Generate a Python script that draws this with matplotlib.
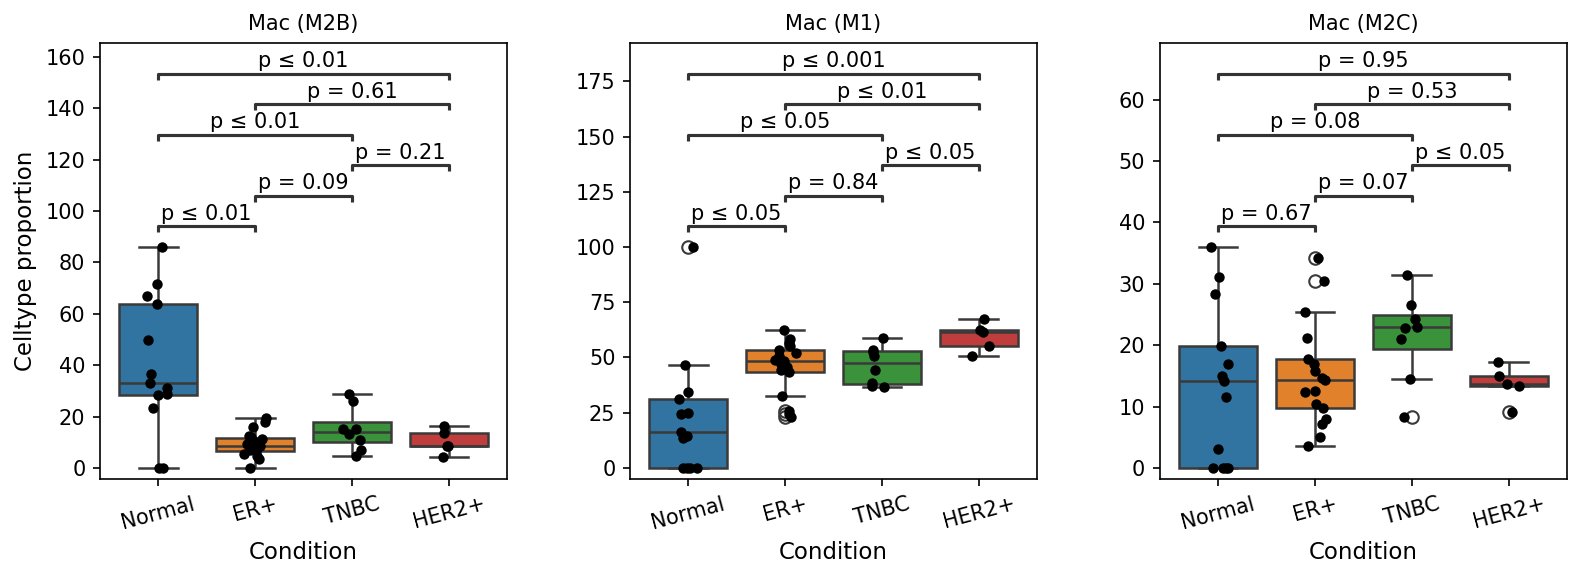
import numpy as np
import pandas as pd
import matplotlib
matplotlib.use("Agg")
import matplotlib.pyplot as plt
import seaborn as sns

conditions = ["Normal", "ER+", "TNBC", "HER2+"]
pairs = [("Normal", "ER+"), ("ER+", "TNBC"), ("TNBC", "HER2+"),
         ("Normal", "TNBC"), ("ER+", "HER2+"), ("Normal", "HER2+")]

# ---- Mac (M2B) ----
m2b_normal = [0, 0, 23.3, 28.5, 28.7, 31.3, 33, 36.5, 50, 64, 67, 71.5, 86]
m2b_er = [0, 3.5, 4.5, 5.5, 6.5, 7, 7.5, 8, 8.4, 8.6, 9.3, 10, 11.3, 12, 12.5, 15.8, 17.7, 19.3]
m2b_tnbc = [4.8, 7, 10.9, 13.2, 15.1, 15.3, 26.1, 28.9]
m2b_her2 = [4.4, 8.4, 8.7, 13.6, 16.2]
m2b_pvals = ["p ≤ 0.01", "p = 0.09", "p = 0.21", "p ≤ 0.01", "p = 0.61", "p ≤ 0.01"]

# ---- Mac (M1) ----
m1_normal = [0, 0, 0, 0, 13.5, 14.5, 16.3, 24.5, 25, 31, 34.2, 46.7, 100]
m1_er = [23, 24.6, 26, 32.7, 43.5, 44.5, 45.5, 47, 48.5, 49, 50.5, 52, 53.5, 55, 56.5, 58.5, 62.6]
m1_tnbc = [36.8, 37.2, 38.3, 44.4, 50.5, 52.7, 53.5, 58.8]
m1_her2 = [50.8, 55.3, 61.6, 62.6, 67.2]
m1_pvals = ["p ≤ 0.05", "p = 0.84", "p ≤ 0.05", "p ≤ 0.05", "p ≤ 0.01", "p ≤ 0.001"]

# ---- Mac (M2C) ----
m2c_normal = [0, 0, 0, 0, 3.1, 11.6, 14.2, 15, 16.9, 19.9, 28.4, 31.1, 36]
m2c_er = [3.5, 5.1, 7.1, 8, 9.8, 10.4, 12.3, 12.5, 14.3, 14.6, 15.8, 16.9, 17.7, 21.1, 25.4, 30.4, 34.2]
m2c_tnbc = [8.3, 14.5, 21, 22.8, 23, 24.3, 26.6, 31.4]
m2c_her2 = [9.15, 13.4, 13.6, 15, 17.3]
m2c_pvals = ["p = 0.67", "p = 0.07", "p ≤ 0.05", "p = 0.08", "p = 0.53", "p = 0.95"]

panels = [
    ("Mac (M2B)", [m2b_normal, m2b_er, m2b_tnbc, m2b_her2], m2b_pvals),
    ("Mac (M1)", [m1_normal, m1_er, m1_tnbc, m1_her2], m1_pvals),
    ("Mac (M2C)", [m2c_normal, m2c_er, m2c_tnbc, m2c_her2], m2c_pvals),
]

np.random.seed(3)
fig, axes = plt.subplots(1, 3, figsize=(10.54, 3.86), dpi=150)
fig.subplots_adjust(left=0.0633, right=0.9911, bottom=0.1727, top=0.9263, wspace=0.302)

for ax, (title, groups, pvals) in zip(axes, panels):
    df = pd.DataFrame({
        "Condition": np.repeat(conditions, [len(g) for g in groups]),
        "value": np.concatenate(groups),
    })
    sns.boxplot(data=df, x="Condition", y="value", hue="Condition",
                order=conditions, palette="tab10", ax=ax, legend=False,
                linewidth=1.2, linecolor="#3a3a3a")
    sns.stripplot(data=df, x="Condition", y="value", order=conditions,
                  color="black", size=5, jitter=0.12, ax=ax)

    # ---- SIGNIFICANCE BRACKETS ----
    ymax = max(max(g) for g in groups)
    step = 0.138 * ymax
    y = ymax + 0.095 * ymax
    drop = 0.027 * ymax
    for (a, b), txt in zip(pairs, pvals):
        x1, x2 = conditions.index(a), conditions.index(b)
        ax.plot([x1, x1, x2, x2], [y - drop, y, y, y - drop],
                color="#333333", lw=1.5, solid_capstyle="butt")
        ax.text((x1 + x2) / 2, y + 0.01 * ymax, txt, ha="center", va="bottom", fontsize=10)
        last_y = y
        y += step

    ax.set_ylim(-0.05 * ymax, last_y + 0.14 * ymax)
    ax.set_xlim(-0.6, 3.6)
    ax.set_title(title, fontsize=10)
    ax.set_xlabel("Condition", fontsize=11)
    ax.set_ylabel("Celltype proportion" if ax is axes[0] else "", fontsize=11)
    ax.tick_params(axis="x", labelrotation=15)

plt.savefig("out.png")
plt.close()
